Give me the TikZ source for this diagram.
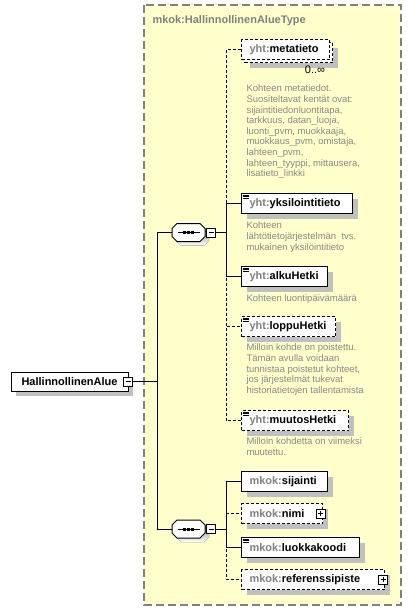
\documentclass[tikz,border=0pt]{standalone}
\usepackage{fontspec}
\setmainfont{Liberation Sans}
\usetikzlibrary{shadows}
\definecolor{bgyellow}{HTML}{FFFFCC}
\definecolor{framegray}{HTML}{808080}
\definecolor{pfx}{HTML}{808080}
\definecolor{desc}{HTML}{888888}
\definecolor{shade}{HTML}{C0C0C0}
\newcommand\seqoct[1]{%
  \begin{scope}[shift={(#1.center)}]
    \fill[shade] (-12.5,-5) -- (15.5,-5) -- (20.5,0) -- (20.5,8) -- (15.5,13) -- (-7.5,13) -- (-12.5,8) -- cycle;
    \draw[fill=white] (-16.5,-4) -- (-11.5,-9) -- (11.5,-9) -- (16.5,-4) -- (16.5,4) -- (11.5,9) -- (-11.5,9) -- (-16.5,4) -- cycle;
    \draw (-11,0) -- (11,0);
    \fill (-5.5,-1.5) rectangle +(3,3);
    \fill (-1.5,-1.5) rectangle +(3,3);
    \fill (2.5,-1.5) rectangle +(3,3);
  \end{scope}}
\newcommand\annicon[1]{%
  \foreach \k in {2,3.8,5.6} {\draw[line width=0.7pt] ([shift={(1.5,\k)}]#1.north west) -- ++(6,0);}}
\begin{document}
\begin{tikzpicture}[x=1pt,y=-1pt,line width=1pt,
  dsh/.style={dash pattern=on 3pt off 2pt},
  shd/.style={general shadow={fill=shade, shadow xshift=5pt, shadow yshift=-5pt}},
  elem/.style={draw, fill=white, minimum height=20pt, inner ysep=0pt, inner xsep=8pt,
    text width=#1, align=left, anchor=north west,
    font=\fontsize{11}{13}\selectfont\bfseries},
  desc/.style={anchor=north west, inner sep=0pt, align=left, text=desc,
    font=\fontsize{9.5}{10.6}\selectfont},
  minusbox/.style={draw, fill=white, line width=0.8pt, minimum size=9pt, inner sep=0pt,
    path picture={\draw[line width=0.8pt] ([xshift=2pt]path picture bounding box.west) -- ([xshift=-2pt]path picture bounding box.east);}},
  plusbox/.style={draw, fill=white, line width=0.8pt, minimum size=9pt, inner sep=0pt,
    path picture={\draw[line width=0.8pt] ([xshift=2pt]path picture bounding box.west) -- ([xshift=-2pt]path picture bounding box.east);
      \draw[line width=0.8pt] ([yshift=-2pt]path picture bounding box.north) -- ([yshift=2pt]path picture bounding box.south);}},
]
\useasboundingbox (0,0) rectangle (412,611);
% type frame
\draw[framegray, fill=bgyellow, line width=1.5pt, dash pattern=on 8pt off 4pt] (144,5) rectangle (401,605);
\node[anchor=base west, inner sep=0pt, text=pfx, font=\fontsize{11}{13}\selectfont\bfseries] (title) at (152,23) {mkok:HallinnollinenAlueType};

% main element
\node[draw, fill=white, shd, minimum width=117pt, minimum height=19pt, inner sep=0pt,
  font=\fontsize{11}{13}\selectfont\bfseries] (main) at (69.5,381.5) {HallinnollinenAlue};
\node[minusbox] (mainm) at (128,381.5) {};
\coordinate (trunk) at (157,381.5);

% sequences
\node[inner sep=0pt, minimum width=33pt, minimum height=18pt] (seqA) at (188.5,232.5) {};
\seqoct{seqA}
\node[minusbox] (seqAm) at (211,232.5) {};
\coordinate (brA) at (226,232.5);
\node[inner sep=0pt, minimum width=33pt, minimum height=18pt] (seqB) at (188.5,529) {};
\seqoct{seqB}
\node[minusbox] (seqBm) at (211,529) {};
\coordinate (brB) at (226,529);

\draw (mainm.east) -- (trunk);
\draw (trunk) |- (seqA.west);
\draw (trunk) |- (seqB.west);
\draw (seqAm.east) -- (brA);
\draw (seqBm.east) -- (brB);

% children of first sequence
\node[elem=72pt, dsh, shd] (metaB) at (244,42) {};
\node[elem=72pt, dsh] (meta) at (241,39) {\textcolor{pfx}{yht:}metatieto};
\node[font=\fontsize{11}{12}\selectfont, inner sep=0pt] (metaocc) at (315,70) {0..∞};
\node[desc] (metad) at (246,84.5) {Kohteen metatiedot.\\Suositeltavat kentät ovat:\\sijaintitiedonluontitapa,\\tarkkuus, datan\_luoja,\\luonti\_pvm, muokkaaja,\\muokkaus\_pvm, omistaja,\\lahteen\_pvm,\\lahteen\_tyyppi, mittausera,\\lisatieto\_linkki};

\node[elem=95pt, shd] (yks) at (241,193) {\textcolor{pfx}{yht:}yksilointitieto};
\annicon{yks}
\node[desc] (yksd) at (246,221.5) {Kohteen\\lähtötietojärjestelmän\ \ tvs.\\mukainen yksilöintitieto};

\node[elem=70pt, shd] (alku) at (241,266) {\textcolor{pfx}{yht:}alkuHetki};
\annicon{alku}
\node[desc] (alkud) at (246,294) {Kohteen luontipäivämäärä};

\node[elem=78pt, dsh, shd] (loppu) at (241,316) {\textcolor{pfx}{yht:}loppuHetki};
\annicon{loppu}
\node[desc] (loppud) at (246,343.5) {Milloin kohde on poistettu.\\Tämän avulla voidaan\\tunnistaa poistetut kohteet,\\jos järjestelmät tukevat\\historiatietojen tallentamista};

\node[elem=91pt, dsh, shd] (muutos) at (241,410) {\textcolor{pfx}{yht:}muutosHetki};
\annicon{muutos}
\node[desc] (muutosd) at (246,437.5) {Milloin kohdetta on viimeksi\\muutettu.};

\draw[dsh] (brA) |- (meta.west);
\draw[dsh] (brA) |- (loppu.west);
\draw[dsh] (brA) |- (muutos.west);
\draw (brA) |- (yks.west);
\draw (brA) |- (alku.west);

% children of second sequence
\node[elem=70pt, shd] (sij) at (241,471) {\textcolor{pfx}{mkok:}sijainti};
\node[elem=65pt, dsh, shd] (nimi) at (241,503) {\textcolor{pfx}{mkok:}nimi};
\node[plusbox] (nimip) at (320.5,513.5) {};
\node[elem=102pt, shd] (luokka) at (241,537) {\textcolor{pfx}{mkok:}luokkakoodi};
\annicon{luokka}
\node[elem=127pt, dsh, shd] (ref) at (241,569) {\textcolor{pfx}{mkok:}referenssipiste};
\node[plusbox] (refp) at (383,579.5) {};

\draw[dsh] (brB) |- (nimi.west);
\draw[dsh] (brB) |- (ref.west);
\draw (brB) |- (sij.west);
\draw (brB) |- (luokka.west);
\end{tikzpicture}
\end{document}
